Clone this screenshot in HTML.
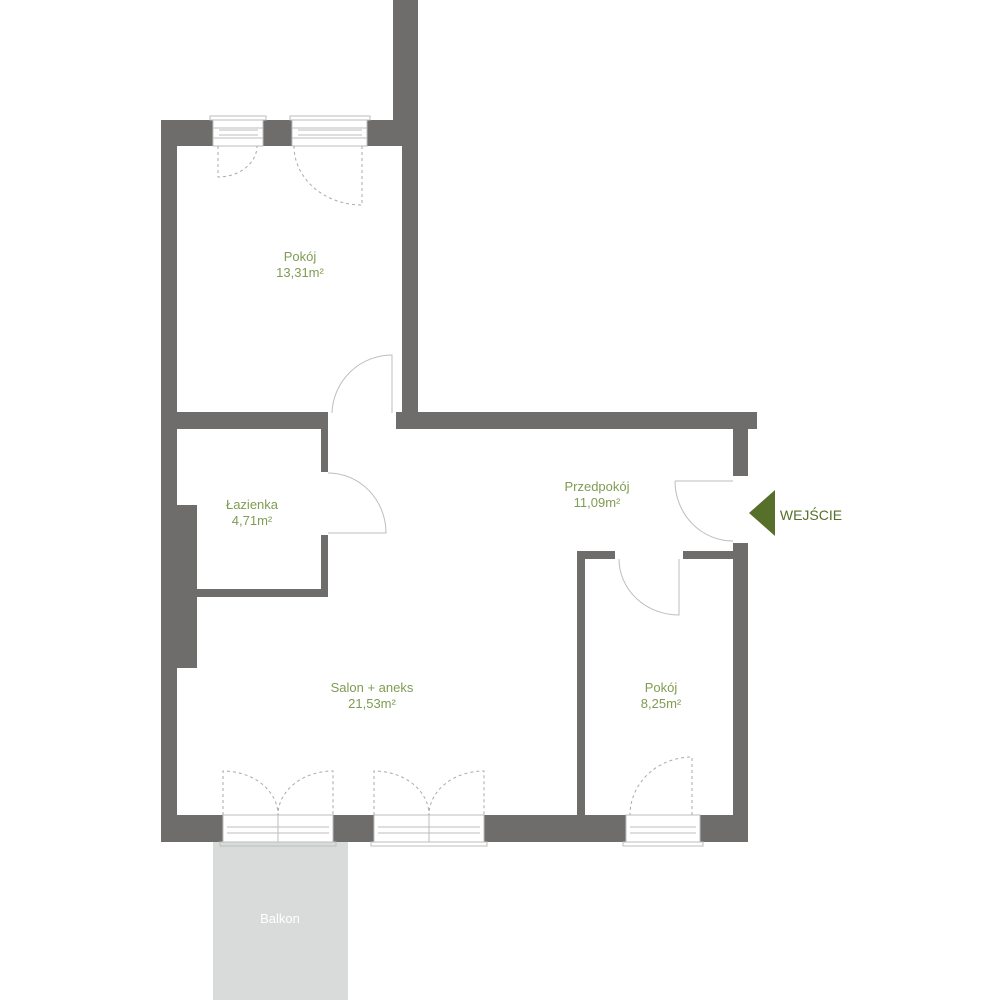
<!DOCTYPE html>
<html><head><meta charset="utf-8"><style>
html,body{margin:0;padding:0;background:#fff}
svg{display:block}
text{font-family:"Liberation Sans",sans-serif;font-size:13px;fill:#7f9c52;text-anchor:middle}
</style></head><body>
<svg width="1000" height="1000" viewBox="0 0 1000 1000">
<rect x="213" y="842" width="135" height="158" fill="#d9dbda"/>
<text x="280" y="923" style="fill:#fff">Balkon</text>
<g fill="#6f6d6b">
<!-- top -->
<rect x="161" y="120" width="52" height="26"/>
<rect x="263" y="120" width="30" height="26"/>
<rect x="367" y="120" width="51" height="26"/>
<rect x="393" y="0" width="25" height="146"/>
<rect x="402" y="146" width="16" height="267"/>
<!-- left -->
<rect x="161" y="120" width="16" height="722"/>
<rect x="177" y="505" width="20" height="163"/>
<!-- mid horizontal -->
<rect x="161" y="412" width="167" height="17"/>
<rect x="396" y="412" width="361" height="17"/>
<!-- bathroom -->
<rect x="321" y="429" width="7" height="43"/>
<rect x="321" y="535" width="7" height="62"/>
<rect x="197" y="589" width="131" height="8"/>
<!-- right -->
<rect x="733" y="429" width="15" height="47"/>
<rect x="733" y="543" width="15" height="299"/>
<!-- small room -->
<rect x="577" y="551" width="8" height="264"/>
<rect x="577" y="551" width="38" height="8"/>
<rect x="683" y="551" width="50" height="8"/>
<!-- bottom -->
<rect x="161" y="815" width="62" height="27"/>
<rect x="333" y="815" width="41" height="27"/>
<rect x="484" y="815" width="142" height="27"/>
<rect x="700" y="815" width="48" height="27"/>
</g>
<g fill="none" stroke="#bdbdbd" stroke-width="1">
<!-- windows top -->
<rect x="213" y="120" width="50" height="26" fill="#fff"/>
<rect x="210" y="116" width="56" height="4"/>
<line x1="213" y1="128" x2="263" y2="128"/><line x1="213" y1="138" x2="263" y2="138"/>
<line x1="219" y1="130" x2="258" y2="130"/><line x1="219" y1="135" x2="258" y2="135"/>
<rect x="292" y="120" width="75" height="26" fill="#fff"/>
<rect x="290" y="116" width="80" height="4"/>
<line x1="292" y1="128" x2="367" y2="128"/><line x1="292" y1="138" x2="367" y2="138"/>
<line x1="298" y1="130" x2="362" y2="130"/><line x1="298" y1="135" x2="362" y2="135"/>
<!-- windows bottom -->
<rect x="223" y="815" width="110" height="27" fill="#fff"/>
<rect x="220" y="842" width="116" height="4"/>
<line x1="227" y1="827" x2="329" y2="827"/><line x1="227" y1="833" x2="329" y2="833"/>
<line x1="278" y1="815" x2="278" y2="842"/>
<rect x="374" y="815" width="110" height="27" fill="#fff"/>
<rect x="371" y="842" width="116" height="4"/>
<line x1="378" y1="827" x2="480" y2="827"/><line x1="378" y1="833" x2="480" y2="833"/>
<line x1="429" y1="815" x2="429" y2="842"/>
<rect x="626" y="815" width="74" height="27" fill="#fff"/>
<rect x="623" y="842" width="80" height="4"/>
<line x1="630" y1="827" x2="696" y2="827"/><line x1="630" y1="833" x2="696" y2="833"/>
<!-- solid doors -->
<path d="M332 413 A60 60 0 0 1 392 355 L392 413"/>
<path d="M328 473 A58 60 0 0 1 386 533 L328 533"/>
<path d="M675 481 L733 481 M675 481 A58 60 0 0 0 733 541"/>
<path d="M619 559 A60 56 0 0 0 679 615 L679 559"/>
</g>
<g fill="none" stroke="#aaa" stroke-width="1" stroke-dasharray="3,3">
<path d="M218 146 L218 177 A39 31 0 0 0 257 146"/>
<path d="M362 146 L362 205 A68 59 0 0 1 294 146"/>
<path d="M223 815 L223 771 A55 44 0 0 1 278 815 A55 44 0 0 1 333 771 L333 815"/>
<path d="M374 815 L374 771 A55 44 0 0 1 429 815 A55 44 0 0 1 484 771 L484 815"/>
<path d="M692 815 L692 757 A62 58 0 0 0 630 815"/>
</g>
<text x="300" y="261">Pokój</text>
<text x="300" y="277">13,31m²</text>
<text x="252" y="509">Łazienka</text>
<text x="252" y="525">4,71m²</text>
<text x="597" y="491">Przedpokój</text>
<text x="597" y="507">11,09m²</text>
<text x="372" y="692">Salon + aneks</text>
<text x="372" y="708">21,53m²</text>
<text x="661" y="692">Pokój</text>
<text x="661" y="708">8,25m²</text>
<polygon points="749,513 775,490 775,536" fill="#566f2a"/>
<text x="811" y="520" style="fill:#566f2a;font-size:14px">WEJŚCIE</text>
</svg>
</body></html>
